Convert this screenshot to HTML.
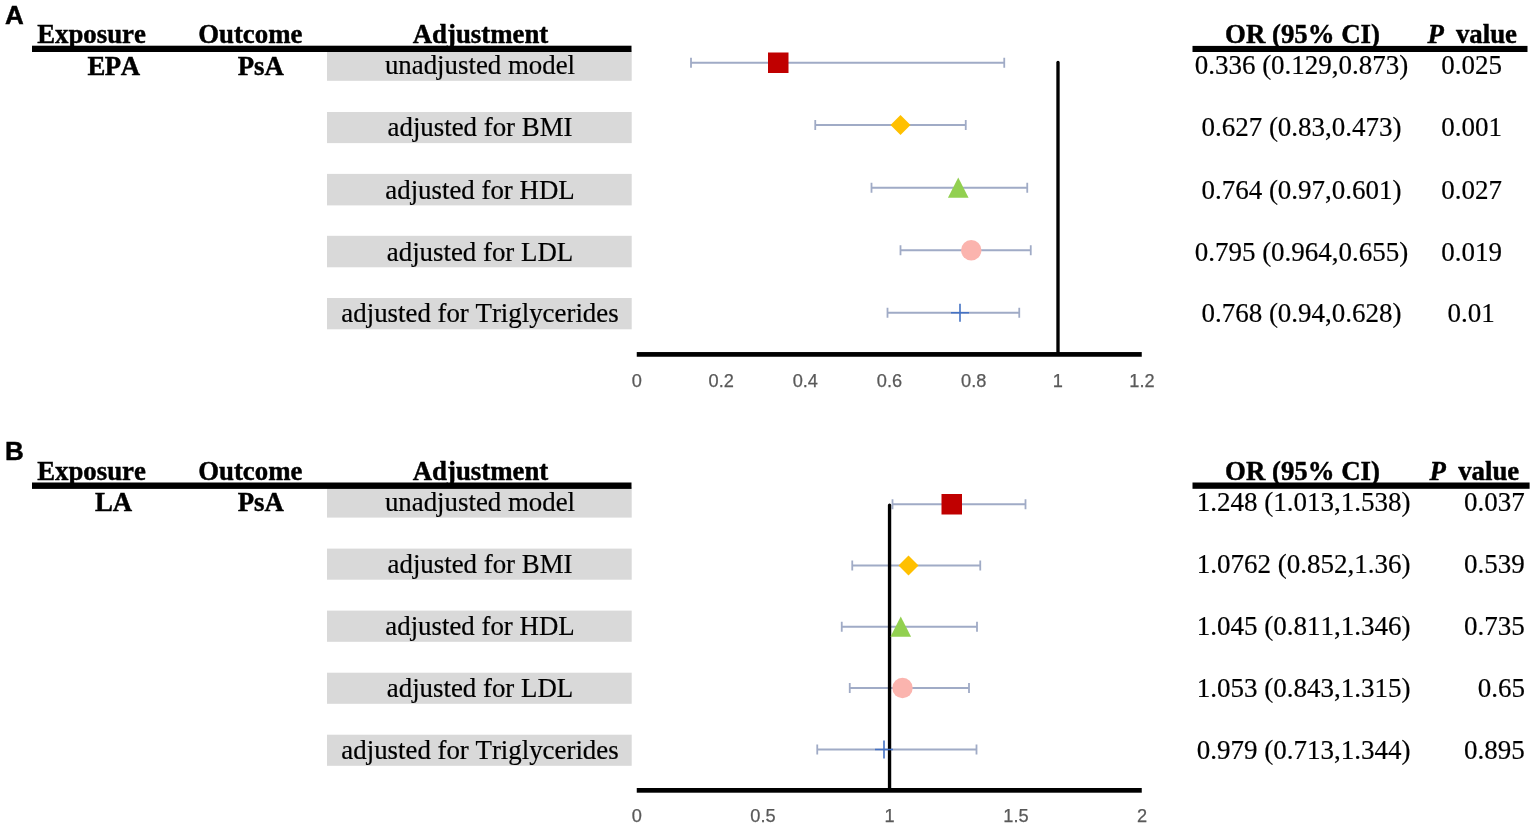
<!DOCTYPE html>
<html lang="en">
<head>
<meta charset="utf-8">
<title>Forest plot</title>
<style>
html,body{margin:0;padding:0;background:#fff;}
body{width:1535px;height:828px;overflow:hidden;}
svg{display:block;}
text{white-space:pre;font-kerning:none;}
</style>
</head>
<body>
<svg width="1535" height="828" viewBox="0 0 1535 828">
<rect width="1535" height="828" fill="#ffffff"/>
<rect x="327" y="50" width="304.70000000000005" height="30.799999999999997" fill="#d9d9d9"/>
<rect x="327" y="112" width="304.70000000000005" height="31.099999999999994" fill="#d9d9d9"/>
<rect x="327" y="173.9" width="304.70000000000005" height="31.5" fill="#d9d9d9"/>
<rect x="327" y="235.8" width="304.70000000000005" height="31.5" fill="#d9d9d9"/>
<rect x="327" y="298" width="304.70000000000005" height="31.30000000000001" fill="#d9d9d9"/>
<rect x="32" y="45.7" width="599.5" height="6.299999999999997" fill="#000"/>
<rect x="1192.5" y="45.9" width="335.0" height="6.100000000000001" fill="#000"/>
<text x="5" y="24" font-family='"Liberation Sans", sans-serif' font-size="26" font-weight="bold" text-anchor="start" fill="#000" stroke="#000" stroke-width="0.45" >A</text>
<text x="91.5" y="42.9" font-family='"Liberation Serif", serif' font-size="26.8" font-weight="bold" text-anchor="middle" fill="#000" stroke="#000" stroke-width="0.45" >Exposure</text>
<text x="250.3" y="42.9" font-family='"Liberation Serif", serif' font-size="26.8" font-weight="bold" text-anchor="middle" fill="#000" stroke="#000" stroke-width="0.45" >Outcome</text>
<text x="480.5" y="42.9" font-family='"Liberation Serif", serif' font-size="26.8" font-weight="bold" text-anchor="middle" fill="#000" stroke="#000" stroke-width="0.45" >Adjustment</text>
<text x="1302.5" y="43.0" font-family='"Liberation Serif", serif' font-size="26.8" font-weight="bold" text-anchor="middle" fill="#000" stroke="#000" stroke-width="0.45" >OR (95% CI)</text>
<text x="1427.4" y="43.0" font-family='"Liberation Serif", serif' font-size="26.8" font-weight="bold" text-anchor="start" fill="#000" stroke="#000" stroke-width="0.45" font-style="italic">P</text>
<text x="1517.0" y="43.0" font-family='"Liberation Serif", serif' font-size="26.8" font-weight="bold" text-anchor="end" fill="#000" stroke="#000" stroke-width="0.45" >value</text>
<text x="113.6" y="74.5" font-family='"Liberation Serif", serif' font-size="26.8" font-weight="bold" text-anchor="middle" fill="#000" stroke="#000" stroke-width="0.45" letter-spacing="-0.4">EPA</text>
<text x="260.8" y="74.5" font-family='"Liberation Serif", serif' font-size="26.8" font-weight="bold" text-anchor="middle" fill="#000" stroke="#000" stroke-width="0.45" >PsA</text>
<text x="480" y="73.6" font-family='"Liberation Serif", serif' font-size="26.85" font-weight="normal" text-anchor="middle" fill="#000" stroke="#000" stroke-width="0.2" >unadjusted model</text>
<text x="480" y="136.2" font-family='"Liberation Serif", serif' font-size="26.85" font-weight="normal" text-anchor="middle" fill="#000" stroke="#000" stroke-width="0.2" >adjusted for BMI</text>
<text x="480" y="198.5" font-family='"Liberation Serif", serif' font-size="26.85" font-weight="normal" text-anchor="middle" fill="#000" stroke="#000" stroke-width="0.2" >adjusted for HDL</text>
<text x="480" y="260.8" font-family='"Liberation Serif", serif' font-size="26.85" font-weight="normal" text-anchor="middle" fill="#000" stroke="#000" stroke-width="0.2" >adjusted for LDL</text>
<text x="480" y="322.3" font-family='"Liberation Serif", serif' font-size="26.85" font-weight="normal" text-anchor="middle" fill="#000" stroke="#000" stroke-width="0.2" >adjusted for Triglycerides</text>
<text x="1301.5" y="73.6" font-family='"Liberation Serif", serif' font-size="27" font-weight="normal" text-anchor="middle" fill="#000" stroke="#000" stroke-width="0.2" >0.336 (0.129,0.873)</text>
<text x="1471.5" y="73.6" font-family='"Liberation Serif", serif' font-size="27" font-weight="normal" text-anchor="middle" fill="#000" stroke="#000" stroke-width="0.2" >0.025</text>
<text x="1301.5" y="136.2" font-family='"Liberation Serif", serif' font-size="27" font-weight="normal" text-anchor="middle" fill="#000" stroke="#000" stroke-width="0.2" >0.627 (0.83,0.473)</text>
<text x="1471.5" y="136.2" font-family='"Liberation Serif", serif' font-size="27" font-weight="normal" text-anchor="middle" fill="#000" stroke="#000" stroke-width="0.2" >0.001</text>
<text x="1301.5" y="198.5" font-family='"Liberation Serif", serif' font-size="27" font-weight="normal" text-anchor="middle" fill="#000" stroke="#000" stroke-width="0.2" >0.764 (0.97,0.601)</text>
<text x="1471.5" y="198.5" font-family='"Liberation Serif", serif' font-size="27" font-weight="normal" text-anchor="middle" fill="#000" stroke="#000" stroke-width="0.2" >0.027</text>
<text x="1301.5" y="260.8" font-family='"Liberation Serif", serif' font-size="27" font-weight="normal" text-anchor="middle" fill="#000" stroke="#000" stroke-width="0.2" >0.795 (0.964,0.655)</text>
<text x="1471.5" y="260.8" font-family='"Liberation Serif", serif' font-size="27" font-weight="normal" text-anchor="middle" fill="#000" stroke="#000" stroke-width="0.2" >0.019</text>
<text x="1301.5" y="322.3" font-family='"Liberation Serif", serif' font-size="27" font-weight="normal" text-anchor="middle" fill="#000" stroke="#000" stroke-width="0.2" >0.768 (0.94,0.628)</text>
<text x="1471" y="322.3" font-family='"Liberation Serif", serif' font-size="27" font-weight="normal" text-anchor="middle" fill="#000" stroke="#000" stroke-width="0.2" >0.01</text>
<path d="M691 62.75H1004.25M691 57.75V67.75M1004.25 57.75V67.75" stroke="#a0abc6" stroke-width="1.8" fill="none"/>
<path d="M815.25 125H965.75M815.25 120.0V130.0M965.75 120.0V130.0" stroke="#a0abc6" stroke-width="1.8" fill="none"/>
<path d="M871.5 187.75H1027.25M871.5 182.75V192.75M1027.25 182.75V192.75" stroke="#a0abc6" stroke-width="1.8" fill="none"/>
<path d="M900.5 250.25H1030.75M900.5 245.25V255.25M1030.75 245.25V255.25" stroke="#a0abc6" stroke-width="1.8" fill="none"/>
<path d="M887.5 312.75H1019.25M887.5 307.75V317.75M1019.25 307.75V317.75" stroke="#a0abc6" stroke-width="1.8" fill="none"/>
<path d="M1058.0 62.5V354.4" stroke="#000" stroke-width="3.35" stroke-linecap="round" fill="none"/>
<rect x="768.0" y="52.5" width="20.5" height="20.5" fill="#c00000"/>
<path d="M890.5 125L900.5 115L910.5 125L900.5 135Z" fill="#ffc000"/>
<path d="M947.95 197.75L958.25 177.45L968.55 197.75Z" fill="#92d050"/>
<circle cx="971.25" cy="250.25" r="10.2" fill="#fbb4ae"/>
<path d="M951 312.75H969M960 303.75V321.75" stroke="#4472c4" stroke-width="1.6" fill="none"/>
<rect x="636.75" y="352.04999999999995" width="505.0" height="4.7000000000000455" fill="#000"/>
<text x="636.75" y="386.9" font-family='"Liberation Sans", sans-serif' font-size="18.2" font-weight="normal" text-anchor="middle" fill="#595959" stroke="#595959" stroke-width="0.25" >0</text>
<text x="721.2" y="386.9" font-family='"Liberation Sans", sans-serif' font-size="18.2" font-weight="normal" text-anchor="middle" fill="#595959" stroke="#595959" stroke-width="0.25" >0.2</text>
<text x="805.3" y="386.9" font-family='"Liberation Sans", sans-serif' font-size="18.2" font-weight="normal" text-anchor="middle" fill="#595959" stroke="#595959" stroke-width="0.25" >0.4</text>
<text x="889.5" y="386.9" font-family='"Liberation Sans", sans-serif' font-size="18.2" font-weight="normal" text-anchor="middle" fill="#595959" stroke="#595959" stroke-width="0.25" >0.6</text>
<text x="973.7" y="386.9" font-family='"Liberation Sans", sans-serif' font-size="18.2" font-weight="normal" text-anchor="middle" fill="#595959" stroke="#595959" stroke-width="0.25" >0.8</text>
<text x="1057.8" y="386.9" font-family='"Liberation Sans", sans-serif' font-size="18.2" font-weight="normal" text-anchor="middle" fill="#595959" stroke="#595959" stroke-width="0.25" >1</text>
<text x="1142" y="386.9" font-family='"Liberation Sans", sans-serif' font-size="18.2" font-weight="normal" text-anchor="middle" fill="#595959" stroke="#595959" stroke-width="0.25" >1.2</text>
<rect x="327" y="487" width="304.70000000000005" height="30.600000000000023" fill="#d9d9d9"/>
<rect x="327" y="548.6" width="304.70000000000005" height="31.100000000000023" fill="#d9d9d9"/>
<rect x="327" y="610.6" width="304.70000000000005" height="31.199999999999932" fill="#d9d9d9"/>
<rect x="327" y="672.7" width="304.70000000000005" height="31.09999999999991" fill="#d9d9d9"/>
<rect x="327" y="734.7" width="304.70000000000005" height="31.09999999999991" fill="#d9d9d9"/>
<rect x="32" y="482.5" width="599.5" height="6.399999999999977" fill="#000"/>
<rect x="1192.5" y="482.5" width="337.0999999999999" height="6.300000000000011" fill="#000"/>
<text x="5" y="459.7" font-family='"Liberation Sans", sans-serif' font-size="26" font-weight="bold" text-anchor="start" fill="#000" stroke="#000" stroke-width="0.45" >B</text>
<text x="91.5" y="480.2" font-family='"Liberation Serif", serif' font-size="26.8" font-weight="bold" text-anchor="middle" fill="#000" stroke="#000" stroke-width="0.45" >Exposure</text>
<text x="250.3" y="480.2" font-family='"Liberation Serif", serif' font-size="26.8" font-weight="bold" text-anchor="middle" fill="#000" stroke="#000" stroke-width="0.45" >Outcome</text>
<text x="480.5" y="480.2" font-family='"Liberation Serif", serif' font-size="26.8" font-weight="bold" text-anchor="middle" fill="#000" stroke="#000" stroke-width="0.45" >Adjustment</text>
<text x="1302.5" y="480.2" font-family='"Liberation Serif", serif' font-size="26.8" font-weight="bold" text-anchor="middle" fill="#000" stroke="#000" stroke-width="0.45" >OR (95% CI)</text>
<text x="1429.6" y="480.2" font-family='"Liberation Serif", serif' font-size="26.8" font-weight="bold" text-anchor="start" fill="#000" stroke="#000" stroke-width="0.45" font-style="italic">P</text>
<text x="1519.2" y="480.2" font-family='"Liberation Serif", serif' font-size="26.8" font-weight="bold" text-anchor="end" fill="#000" stroke="#000" stroke-width="0.45" >value</text>
<text x="113.6" y="511.1" font-family='"Liberation Serif", serif' font-size="26.8" font-weight="bold" text-anchor="middle" fill="#000" stroke="#000" stroke-width="0.45" >LA</text>
<text x="260.8" y="511.1" font-family='"Liberation Serif", serif' font-size="26.8" font-weight="bold" text-anchor="middle" fill="#000" stroke="#000" stroke-width="0.45" >PsA</text>
<text x="480" y="510.9" font-family='"Liberation Serif", serif' font-size="26.85" font-weight="normal" text-anchor="middle" fill="#000" stroke="#000" stroke-width="0.2" >unadjusted model</text>
<text x="480" y="572.8" font-family='"Liberation Serif", serif' font-size="26.85" font-weight="normal" text-anchor="middle" fill="#000" stroke="#000" stroke-width="0.2" >adjusted for BMI</text>
<text x="480" y="634.9" font-family='"Liberation Serif", serif' font-size="26.85" font-weight="normal" text-anchor="middle" fill="#000" stroke="#000" stroke-width="0.2" >adjusted for HDL</text>
<text x="480" y="696.9" font-family='"Liberation Serif", serif' font-size="26.85" font-weight="normal" text-anchor="middle" fill="#000" stroke="#000" stroke-width="0.2" >adjusted for LDL</text>
<text x="480" y="758.9" font-family='"Liberation Serif", serif' font-size="26.85" font-weight="normal" text-anchor="middle" fill="#000" stroke="#000" stroke-width="0.2" >adjusted for Triglycerides</text>
<text x="1303.7" y="511" font-family='"Liberation Serif", serif' font-size="27" font-weight="normal" text-anchor="middle" fill="#000" stroke="#000" stroke-width="0.2" >1.248 (1.013,1.538)</text>
<text x="1494.4" y="511" font-family='"Liberation Serif", serif' font-size="27" font-weight="normal" text-anchor="middle" fill="#000" stroke="#000" stroke-width="0.2" >0.037</text>
<text x="1303.7" y="572.5" font-family='"Liberation Serif", serif' font-size="27" font-weight="normal" text-anchor="middle" fill="#000" stroke="#000" stroke-width="0.2" >1.0762 (0.852,1.36)</text>
<text x="1494.4" y="572.5" font-family='"Liberation Serif", serif' font-size="27" font-weight="normal" text-anchor="middle" fill="#000" stroke="#000" stroke-width="0.2" >0.539</text>
<text x="1303.7" y="634.5" font-family='"Liberation Serif", serif' font-size="27" font-weight="normal" text-anchor="middle" fill="#000" stroke="#000" stroke-width="0.2" >1.045 (0.811,1.346)</text>
<text x="1494.4" y="634.5" font-family='"Liberation Serif", serif' font-size="27" font-weight="normal" text-anchor="middle" fill="#000" stroke="#000" stroke-width="0.2" >0.735</text>
<text x="1303.7" y="696.5" font-family='"Liberation Serif", serif' font-size="27" font-weight="normal" text-anchor="middle" fill="#000" stroke="#000" stroke-width="0.2" >1.053 (0.843,1.315)</text>
<text x="1501.4" y="696.5" font-family='"Liberation Serif", serif' font-size="27" font-weight="normal" text-anchor="middle" fill="#000" stroke="#000" stroke-width="0.2" >0.65</text>
<text x="1303.7" y="758.5" font-family='"Liberation Serif", serif' font-size="27" font-weight="normal" text-anchor="middle" fill="#000" stroke="#000" stroke-width="0.2" >0.979 (0.713,1.344)</text>
<text x="1494.4" y="758.5" font-family='"Liberation Serif", serif' font-size="27" font-weight="normal" text-anchor="middle" fill="#000" stroke="#000" stroke-width="0.2" >0.895</text>
<path d="M892.5 504.25H1025.5M892.5 499.25V509.25M1025.5 499.25V509.25" stroke="#a0abc6" stroke-width="1.8" fill="none"/>
<path d="M852.25 565.5H980.25M852.25 560.5V570.5M980.25 560.5V570.5" stroke="#a0abc6" stroke-width="1.8" fill="none"/>
<path d="M841.75 626.75H977M841.75 621.75V631.75M977 621.75V631.75" stroke="#a0abc6" stroke-width="1.8" fill="none"/>
<path d="M849.75 688H969M849.75 683.0V693.0M969 683.0V693.0" stroke="#a0abc6" stroke-width="1.8" fill="none"/>
<path d="M817.25 749.5H976.5M817.25 744.5V754.5M976.5 744.5V754.5" stroke="#a0abc6" stroke-width="1.8" fill="none"/>
<path d="M889.55 505.1V790.35" stroke="#000" stroke-width="3.35" stroke-linecap="round" fill="none"/>
<rect x="941.5" y="494.0" width="20.5" height="20.5" fill="#c00000"/>
<path d="M898.5 565.5L908.5 555.5L918.5 565.5L908.5 575.5Z" fill="#ffc000"/>
<path d="M890.45 636.75L900.75 616.45L911.05 636.75Z" fill="#92d050"/>
<circle cx="902.5" cy="688" r="10.2" fill="#fbb4ae"/>
<path d="M875 749.5H893M884 740.5V758.5" stroke="#4472c4" stroke-width="1.6" fill="none"/>
<rect x="636.75" y="788.0" width="505.0" height="4.7000000000000455" fill="#000"/>
<text x="636.75" y="822.1" font-family='"Liberation Sans", sans-serif' font-size="18.2" font-weight="normal" text-anchor="middle" fill="#595959" stroke="#595959" stroke-width="0.25" >0</text>
<text x="763" y="822.1" font-family='"Liberation Sans", sans-serif' font-size="18.2" font-weight="normal" text-anchor="middle" fill="#595959" stroke="#595959" stroke-width="0.25" >0.5</text>
<text x="889.5" y="822.1" font-family='"Liberation Sans", sans-serif' font-size="18.2" font-weight="normal" text-anchor="middle" fill="#595959" stroke="#595959" stroke-width="0.25" >1</text>
<text x="1016" y="822.1" font-family='"Liberation Sans", sans-serif' font-size="18.2" font-weight="normal" text-anchor="middle" fill="#595959" stroke="#595959" stroke-width="0.25" >1.5</text>
<text x="1142" y="822.1" font-family='"Liberation Sans", sans-serif' font-size="18.2" font-weight="normal" text-anchor="middle" fill="#595959" stroke="#595959" stroke-width="0.25" >2</text>
</svg>
</body>
</html>
